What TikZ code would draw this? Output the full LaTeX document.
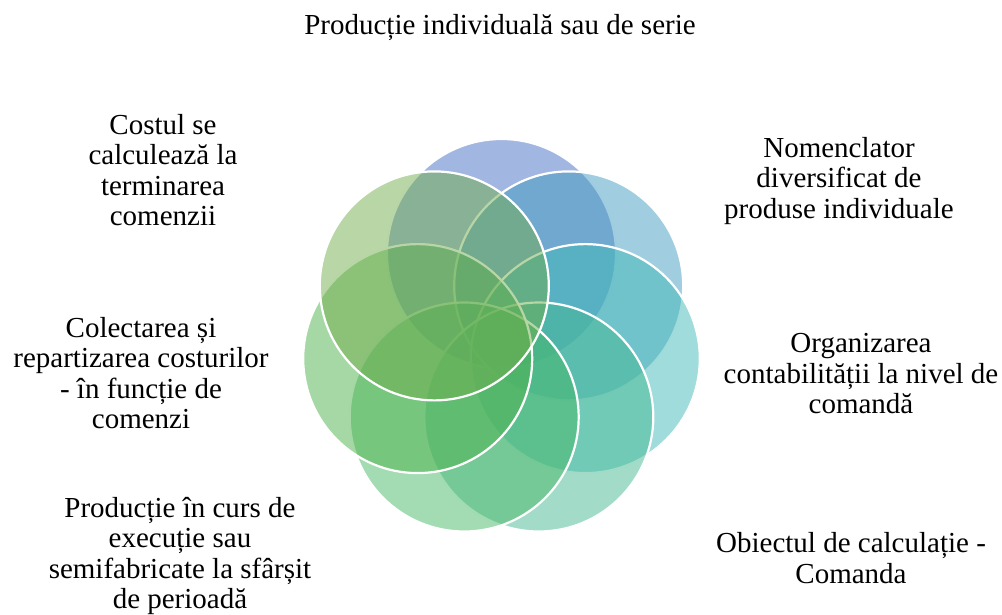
\documentclass[tikz,border=0pt]{standalone}
\usepackage{fontspec}
\setmainfont{Liberation Serif}
\definecolor{cA}{HTML}{436DC1}
\definecolor{cB}{HTML}{439BC1}
\definecolor{cC}{HTML}{41B9B7}
\definecolor{cD}{HTML}{45B991}
\definecolor{cE}{HTML}{47B767}
\definecolor{cF}{HTML}{4DB14B}
\definecolor{cG}{HTML}{71AD4D}
\tikzset{
  ring/.style={circle, minimum size=229pt, inner sep=0pt, draw=white, line width=2.2pt, fill opacity=0.5},
  lbl/.style={align=center, font=\fontsize{29}{30.5}\selectfont, inner sep=0pt}
}
\begin{document}
\begin{tikzpicture}[x=1pt,y=-1pt]
\useasboundingbox (0,0) rectangle (1002,615);
\node[ring, fill=cA] (c1) at (501.5,253.5) {};
\node[ring, fill=cB] (c2) at (568.7,285.9) {};
\node[ring, fill=cC] (c3) at (585.3,358.6) {};
\node[ring, fill=cD] (c4) at (538.8,417.0) {};
\node[ring, fill=cE] (c5) at (464.2,417.0) {};
\node[ring, fill=cF] (c6) at (417.7,358.6) {};
\node[ring, fill=cG] (c7) at (434.3,285.9) {};
\node[lbl] (t1) at (500,28) {Producție individuală sau de serie};
\node[lbl] (t2) at (839,181) {Nomenclator\\diversificat de\\produse individuale};
\node[lbl] (t3) at (861,374) {Organizarea\\contabilității la nivel de\\comandă};
\node[lbl] (t4) at (851,558) {Obiectul de calculație -\\Comanda};
\node[lbl] (t5) at (180,556) {Producție în curs de\\execuție sau\\semifabricate la sfârșit\\de perioadă};
\node[lbl] (t6) at (141,373) {Colectarea și\\repartizarea costurilor\\- în funcție de\\comenzi};
\node[lbl] (t7) at (163,170) {Costul se\\calculează la\\terminarea\\comenzii};
\end{tikzpicture}
\end{document}
